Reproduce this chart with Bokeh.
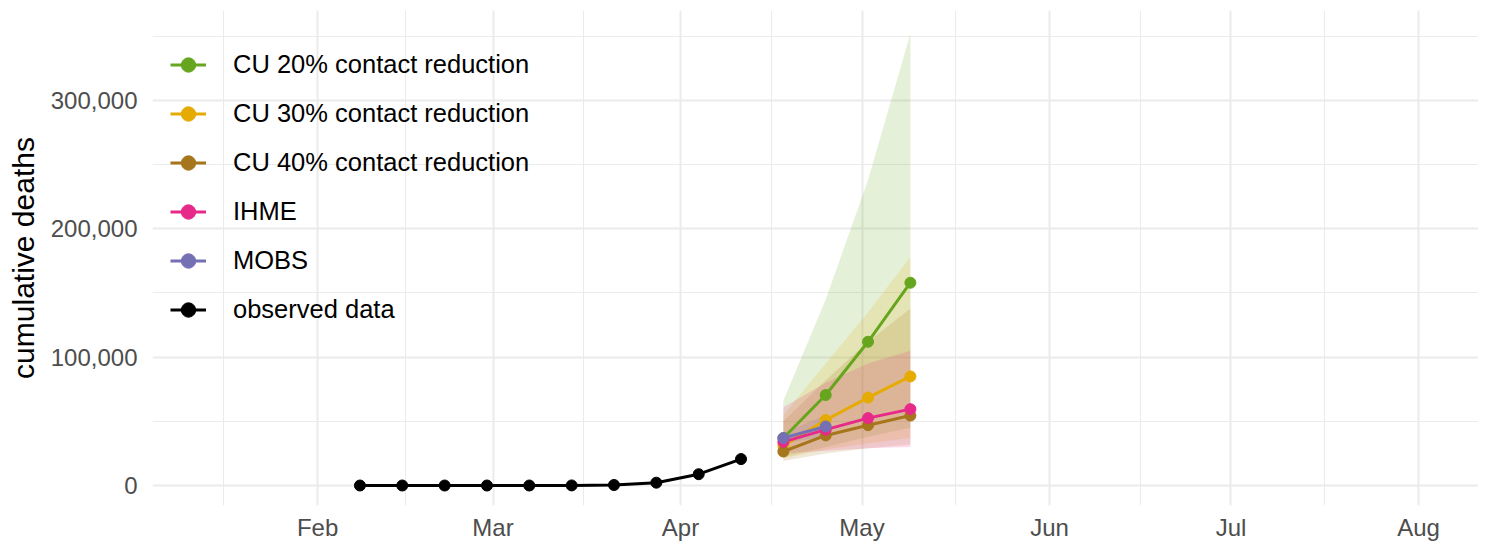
import pandas as pd
from bokeh.plotting import figure
from bokeh.models import Range1d, FixedTicker, NumeralTickFormatter, DatetimeTickFormatter, Legend
from bokeh.embed import file_html
from bokeh.resources import INLINE

# ---------------- data ----------------
obs_dates = ["2020-02-08", "2020-02-15", "2020-02-22", "2020-02-29", "2020-03-07",
             "2020-03-14", "2020-03-21", "2020-03-28", "2020-04-04", "2020-04-11"]
obs_deaths = [0, 0, 0, 0, 1, 57, 400, 2200, 8800, 20600]

fc_dates = ["2020-04-18", "2020-04-25", "2020-05-02", "2020-05-09"]
cu20_mid = [37000, 70500, 112000, 158000]
cu20_lo = [22000, 30000, 38000, 45000]
cu20_hi = [66000, 145000, 238000, 352000]
cu30_mid = [31000, 51000, 68500, 85000]
cu30_lo = [21000, 28000, 33000, 37000]
cu30_hi = [55000, 95000, 135000, 178000]
cu40_mid = [26500, 39000, 47000, 54500]
cu40_lo = [19000, 25000, 29000, 32000]
cu40_hi = [50000, 82000, 112000, 138000]
ihme_mid = [34000, 43500, 52500, 59500]
ihme_lo = [25000, 27000, 29000, 30000]
ihme_hi = [61000, 80000, 95000, 105000]
mobs_dates = ["2020-04-18", "2020-04-25"]
mobs_mid = [37000, 46000]
mobs_lo = [33000, 38000]
mobs_hi = [41000, 55000]

series_names = ["CU 20% contact reduction", "CU 30% contact reduction",
                "CU 40% contact reduction", "IHME", "MOBS"]
series_colors = ["#66a61e", "#e6ab02", "#a6761d", "#e7298a", "#7570b3"]
obs_name = "observed data"
obs_color = "#000000"

major_months = ["2020-02-01", "2020-03-01", "2020-04-01", "2020-05-01",
                "2020-06-01", "2020-07-01", "2020-08-01"]
minor_months = ["2020-01-16 12:00", "2020-02-15 12:00", "2020-03-16", "2020-04-16",
                "2020-05-16 12:00", "2020-06-16", "2020-07-16 12:00"]
y_major = [0, 100000, 200000, 300000]
y_minor = [50000, 150000, 250000, 350000]

x_start = "2020-01-04 17:00"
x_end = "2020-08-10 22:00"
y_start = -15580
y_end = 370100

# ---------------- helpers ----------------
def to_dt(lst):
    return [pd.Timestamp(s).to_pydatetime() for s in lst]

def to_ms(lst):
    return [pd.Timestamp(s).value / 1e6 for s in lst]

p = figure(frame_width=1326, frame_height=495, output_backend="svg", toolbar_location=None,
           x_axis_type="datetime",
           x_range=Range1d(pd.Timestamp(x_start).to_pydatetime(), pd.Timestamp(x_end).to_pydatetime()),
           y_range=Range1d(y_start, y_end),
           min_border_left=152, min_border_right=0, min_border_top=10, min_border_bottom=36)
p.outline_line_color = None
p.background_fill_color = "white"
p.border_fill_color = "white"

# grid
p.xaxis.ticker = FixedTicker(ticks=to_ms(major_months), minor_ticks=to_ms(minor_months))
p.yaxis.ticker = FixedTicker(ticks=y_major, minor_ticks=y_minor)
for g in (p.xgrid, p.ygrid):
    g.grid_line_color = "#ebebeb"
    g.grid_line_width = 2
    g.minor_grid_line_color = "#ebebeb"
    g.minor_grid_line_width = 1

# axes
for ax in (p.xaxis, p.yaxis):
    ax.axis_line_color = None
    ax.major_tick_line_color = None
    ax.minor_tick_line_color = None
    ax.major_tick_out = 0
    ax.major_tick_in = 0
    ax.minor_tick_out = 0
    ax.minor_tick_in = 0
    ax.major_label_text_font = "Liberation Sans"
    ax.major_label_text_font_size = "24px"
    ax.major_label_text_color = "#4d4d4d"
p.xaxis.major_label_standoff = 8
p.yaxis.major_label_standoff = 15
p.xaxis.formatter = DatetimeTickFormatter(months="%b", days="%b", years="%b", hours="%b")
p.yaxis.formatter = NumeralTickFormatter(format="0,0")
p.yaxis.axis_label = "cumulative deaths"
p.yaxis.axis_label_text_font = "Liberation Sans"
p.yaxis.axis_label_text_font_size = "30px"
p.yaxis.axis_label_text_font_style = "normal"
p.yaxis.axis_label_text_color = "#000000"
p.yaxis.axis_label_standoff = 8

# ribbons
ribbons = [(fc_dates, cu20_lo, cu20_hi), (fc_dates, cu30_lo, cu30_hi),
           (fc_dates, cu40_lo, cu40_hi), (fc_dates, ihme_lo, ihme_hi),
           (mobs_dates, mobs_lo, mobs_hi)]
for (d, lo, hi), col in zip(ribbons, series_colors):
    p.varea(x=to_dt(d), y1=lo, y2=hi, fill_color=col, fill_alpha=0.17)

# lines + points
mids = [(fc_dates, cu20_mid), (fc_dates, cu30_mid), (fc_dates, cu40_mid),
        (fc_dates, ihme_mid), (mobs_dates, mobs_mid)]
items = []
for (d, m), col, name in zip(mids, series_colors, series_names):
    lr = p.line(x=to_dt(d), y=m, line_color=col, line_width=3)
    sr = p.scatter(x=to_dt(d), y=m, size=11, fill_color=col, line_color=col)
    items.append((name, [lr, sr]))

lr = p.line(x=to_dt(obs_dates), y=obs_deaths, line_color=obs_color, line_width=3)
sr = p.scatter(x=to_dt(obs_dates), y=obs_deaths, size=11, fill_color=obs_color, line_color=obs_color)
items.append((obs_name, [lr, sr]))

legend = Legend(items=items, location=(18, 171), orientation="vertical")
legend.border_line_color = None
legend.background_fill_alpha = 0
legend.padding = 0
legend.margin = 0
legend.spacing = 0
legend.glyph_width = 36
legend.glyph_height = 49
legend.label_height = 49
legend.label_standoff = 27
legend.label_text_font = "Liberation Sans"
legend.label_text_font_size = "25.5px"
legend.label_text_color = "#000000"
p.add_layout(legend, "center")

open("out.html", "w").write(file_html(p, INLINE))
